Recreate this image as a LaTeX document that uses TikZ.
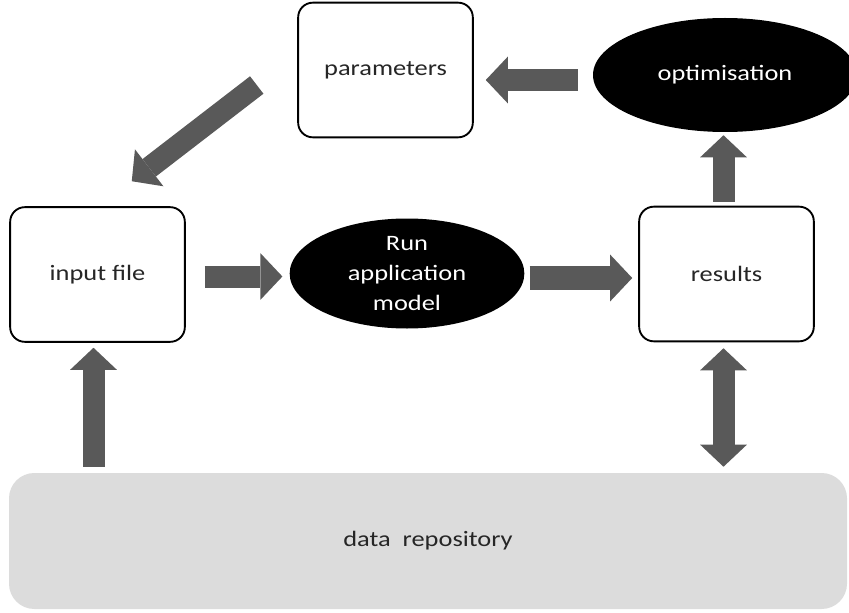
\documentclass[tikz,border=0pt]{standalone}
\usepackage{fontspec}
\setmainfont{Carlito}[FakeStretch=1.2]
\usepackage{tikz}
\usetikzlibrary{positioning}
\usetikzlibrary{arrows.meta,calc}
\usetikzlibrary{shapes.geometric}
\definecolor{arrowgrey}{HTML}{595959}
\definecolor{repogrey}{HTML}{DCDCDC}
\tikzset{
    every picture/.style={>=stealth,auto},
}

\begin{document}
\begin{tikzpicture}[x=0.75pt,y=-0.75pt,
  box/.style={draw=black,line width=1.4pt,rounded corners=11pt,minimum width=131pt,minimum height=101pt,font=\fontsize{16.5pt}{20pt}\selectfont,text=black!85},
  blob/.style={ellipse,fill=black,text=white,inner sep=0pt,align=center,font=\fontsize{16.5pt}{22.5pt}\selectfont},
  blockarrow/.style={draw=arrowgrey,line width=16.5pt,-{Triangle[length=16.5pt,width=35pt,line width=0pt]}},
  twoway/.style={blockarrow,{Triangle[length=16.5pt,width=35pt,line width=0pt]}-{Triangle[length=16.5pt,width=35pt,line width=0pt]}}]
\useasboundingbox (0,0) rectangle (849,613);
\clip (0,0) rectangle (849,613);

\node[box] (params) at (385.5,70) {parameters};
\node[blob,minimum width=198pt,minimum height=85.5pt] (optim) at (725,75) {optimisation};
\node[box] (inputf) at (97.5,274.5) {input file};
\node[blob,minimum width=176pt,minimum height=82.5pt] (runmodel) at (407,273.5) {Run\\application\\model};
\node[box] (results) at (726.5,274) {results};
\node[fill=repogrey,rounded corners=19pt,minimum width=628.5pt,minimum height=102pt,font=\fontsize{16.5pt}{20pt}\selectfont,text=black!85] (repo) at (428,541) {data~ repository};

\path ($(optim.west)+(-15,5)$) edge[blockarrow] ($(params.east)+(12,10)$)
($(params.west)+(-40.5,15)$) edge[blockarrow] ($(inputf.north east)+(-54,-25)$)
($(inputf.east)+(19,2)$) edge[blockarrow] ($(runmodel.west)+(-7,3)$)
($(runmodel.east)+(5,4.5)$) edge[blockarrow,line width=18pt] ($(results.west)+(-6,4)$)
($(results.north)+(-3,-4)$) edge[blockarrow] ($(optim.south)+(-1.5,3)$)
($(inputf.south |- repo.north)+(-4,-6)$) edge[blockarrow] ($(inputf.south)+(-4,5)$)
($(results.south)+(-3,6)$) edge[twoway] ($(results.south |- repo.north)+(-3,-6)$)
;
\end{tikzpicture}
\end{document}
